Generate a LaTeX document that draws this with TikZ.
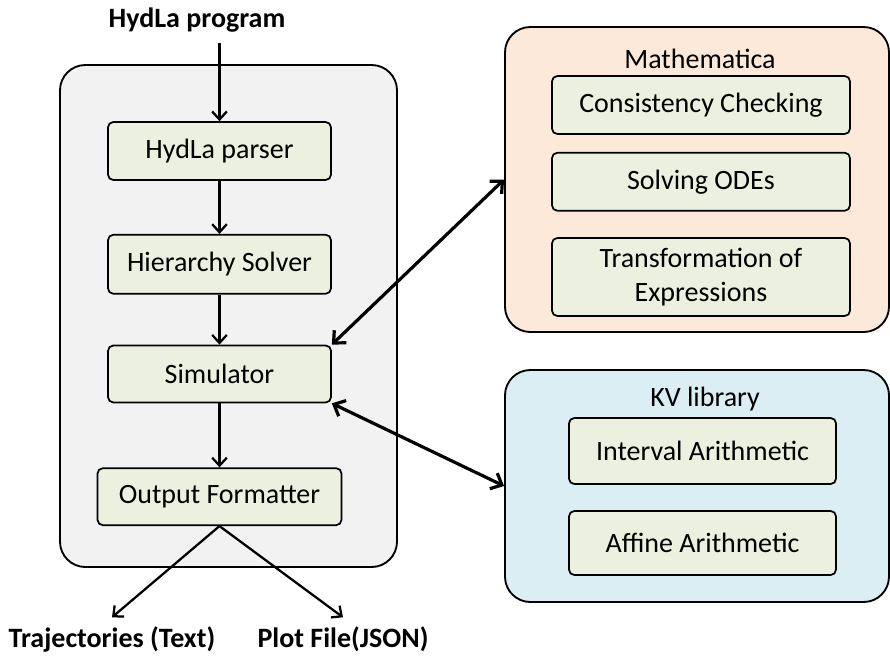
\documentclass[tikz,border=0pt]{standalone}
\usepackage{fontspec}
\setmainfont{Carlito}
\usepackage{tikz}
\usetikzlibrary{positioning, arrows.meta}
\newdimen\px \px=0.75pt
\definecolor{modfill}{HTML}{EBF1DE}
\definecolor{hostfill}{HTML}{F2F2F2}
\definecolor{mathfill}{HTML}{FDE9D9}
\definecolor{kvfill}{HTML}{DBEEF3}
\newcommand{\diagfont}{\fontsize{21}{25.5}\selectfont}
\tikzset{
  module/.style={draw, line width=1.3pt, rounded corners=4pt, fill=modfill, align=center, inner sep=0pt},
  group/.style={draw, line width=1.4pt, rounded corners=19pt, inner sep=0pt},
  flow/.style={-{Straight Barb[length=6pt,width=11pt]}, line width=1.7pt},
  link/.style={{Straight Barb[length=7pt,width=13pt]}-{Straight Barb[length=7pt,width=13pt]}, line width=2.4pt},
  io/.style={font=\diagfont\bfseries}
}

\begin{document}
\begin{tikzpicture}[x=0.75pt, y=-0.75pt, font=\diagfont]
        \useasboundingbox (0,0) rectangle (890,658);

        % HydLa side
        \node[group, fill=hostfill, minimum width=337\px, minimum height=502\px] (hydla) at (228.5,316) {};
        \node[io, inner sep=8pt, anchor=base] (prog) at (197,27) {HydLa program};
        \node[module, minimum width=223\px, minimum height=58\px] (parser) at (219.5,151) {HydLa parser};
        \node[module, minimum width=223\px, minimum height=59\px, below=53\px of parser] (hier) {Hierarchy Solver};
        \node[module, minimum width=223\px, minimum height=57\px, below=50\px of hier] (sim) {Simulator};
        \node[module, minimum width=244\px, minimum height=57\px, below=64\px of sim] (outfmt) {Output Formatter};
        \node[io, inner sep=6.5pt, anchor=base] (traj) at (112,647) {Trajectories (Text)};
        \node[io, inner sep=6.5pt, anchor=base] (plot) at (343,647) {Plot File(JSON)};

        % Mathematica
        \node[group, fill=mathfill, minimum width=384\px, minimum height=305\px] (math) at (697,179.5) {};
        \node[anchor=base] (mathttl) at (700,68) {Mathematica};
        \node[module, minimum width=298\px, minimum height=58\px] (cc) at (701,105) {Consistency Checking};
        \node[module, minimum width=298\px, minimum height=58\px, below=17\px of cc] (odes) {Solving ODEs};
        \node[module, minimum width=298\px, minimum height=78\px] (trans) at (701,277) {Transformation of\\Expressions};

        % KV library
        \node[group, fill=kvfill, minimum width=384\px, minimum height=232\px] (kv) at (697,486) {};
        \node[anchor=base] (kvttl) at (705,406) {KV library};
        \node[module, minimum width=267\px, minimum height=66\px] (ia) at (702.5,451) {Interval Arithmetic};
        \node[module, minimum width=267\px, minimum height=64\px] (aa) at (702.5,543) {Affine Arithmetic};

        \draw[flow] (prog.south -| parser.north) -- (parser.north);
        \draw[flow] (parser) -- (hier);
        \draw[flow] (hier) -- (sim);
        \draw[flow] (sim) -- (outfmt);
        \draw[flow] (outfmt.south) -- (traj.north);
        \draw[flow] (outfmt.south) -- (plot.north);

        \draw[link] (sim.north east) -- (math.west);
        \draw[link] (sim.south east) -- (kv.west);
    \end{tikzpicture}
\end{document}
